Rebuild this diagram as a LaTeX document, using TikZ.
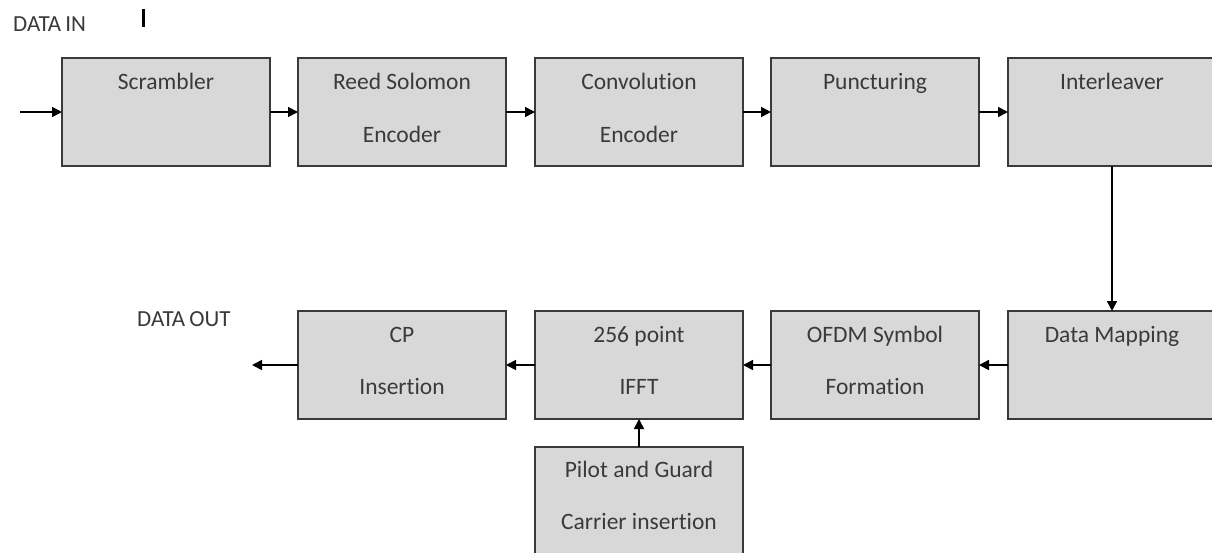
\documentclass[tikz,border=0pt]{standalone}
\usepackage{fontspec}
\setmainfont{Carlito}[Ligatures={NoCommon,NoContextual}]
\usetikzlibrary{arrows.meta,calc}
\definecolor{boxfill}{HTML}{D8D8D8}
\definecolor{boxline}{HTML}{3A3A3A}
\definecolor{txtcol}{HTML}{3A3A3A}
\tikzset{
  blk/.style={draw=boxline, fill=boxfill, line width=1.6pt, minimum width=208pt, minimum height=108pt, inner sep=0pt, outer sep=0pt},
  txt/.style={text=txtcol, font=\fontsize{23.5}{27}\selectfont, inner sep=0pt, anchor=base},
  lbl/.style={text=txtcol, font=\fontsize{23}{26}\selectfont, inner sep=0pt, anchor=base west},
  flow/.style={draw=black, line width=1.6pt, -{Triangle[length=10pt,width=10pt]}}
}
\begin{document}
\begin{tikzpicture}[x=1pt,y=-1pt]
\clip (0,0) rectangle (1212,552);
\fill[white] (0,0) rectangle (1212,552);
% row 1
\node[blk] (scr) at (166,112) {};
\node[blk] (rs)  at (402,112) {};
\node[blk] (cv)  at (639,112) {};
\node[blk] (pn)  at (875,112) {};
\node[blk] (il)  at (1112,112) {};
% row 2
\node[blk] (dm)   at (1112,365) {};
\node[blk] (ofdm) at (875,365) {};
\node[blk] (ifft) at (639,365) {};
\node[blk] (cp)   at (402,365) {};
\node[blk] (pg)   at (639,501) {};
% texts
\node[txt] at ($(scr.north)+(0,31)$) {Scrambler};
\node[txt] at ($(rs.north)+(0,31)$) {Reed Solomon};
\node[txt] at ($(rs.north)+(0,84)$) {Encoder};
\node[txt] at ($(cv.north)+(0,31)$) {Convolution};
\node[txt] at ($(cv.north)+(0,84)$) {Encoder};
\node[txt] at ($(pn.north)+(0,31)$) {Puncturing};
\node[txt] at ($(il.north)+(0,31)$) {Interleaver};
\node[txt] at ($(dm.north)+(0,31)$) {Data Mapping};
\node[txt] at ($(ofdm.north)+(0,31)$) {OFDM Symbol};
\node[txt] at ($(ofdm.north)+(0,83)$) {Formation};
\node[txt] at ($(ifft.north)+(0,31)$) {256 point};
\node[txt] at ($(ifft.north)+(0,83)$) {IFFT};
\node[txt] at ($(cp.north)+(0,31)$) {CP};
\node[txt] at ($(cp.north)+(0,83)$) {Insertion};
\node[txt] at ($(pg.north)+(0,30)$) {Pilot and Guard};
\node[txt] at ($(pg.north)+(0,82)$) {Carrier insertion};
% outer labels
\node[lbl] (din) at (13,31) {DATA\kern-1pt{} IN};
\node[lbl] (dout) at (137,326) {DATA\kern-1pt{} OUT};
\draw[line width=3pt, black] (143,9) -- (143,27);
% connectors
\coordinate (src) at (20,112);
\coordinate (sink) at (252,365);
\draw[flow] (src) -- (scr.west);
\draw[flow] (scr.east) -- (rs.west);
\draw[flow] (rs.east) -- (cv.west);
\draw[flow] (cv.east) -- (pn.west);
\draw[flow] (pn.east) -- (il.west);
\draw[flow] (il.south) -- (dm.north);
\draw[flow] (dm.west) -- (ofdm.east);
\draw[flow] (ofdm.west) -- (ifft.east);
\draw[flow] (ifft.west) -- (cp.east);
\draw[flow] (cp.west) -- (sink);
\draw[flow] (pg.north) -- (ifft.south);
\end{tikzpicture}
\end{document}
